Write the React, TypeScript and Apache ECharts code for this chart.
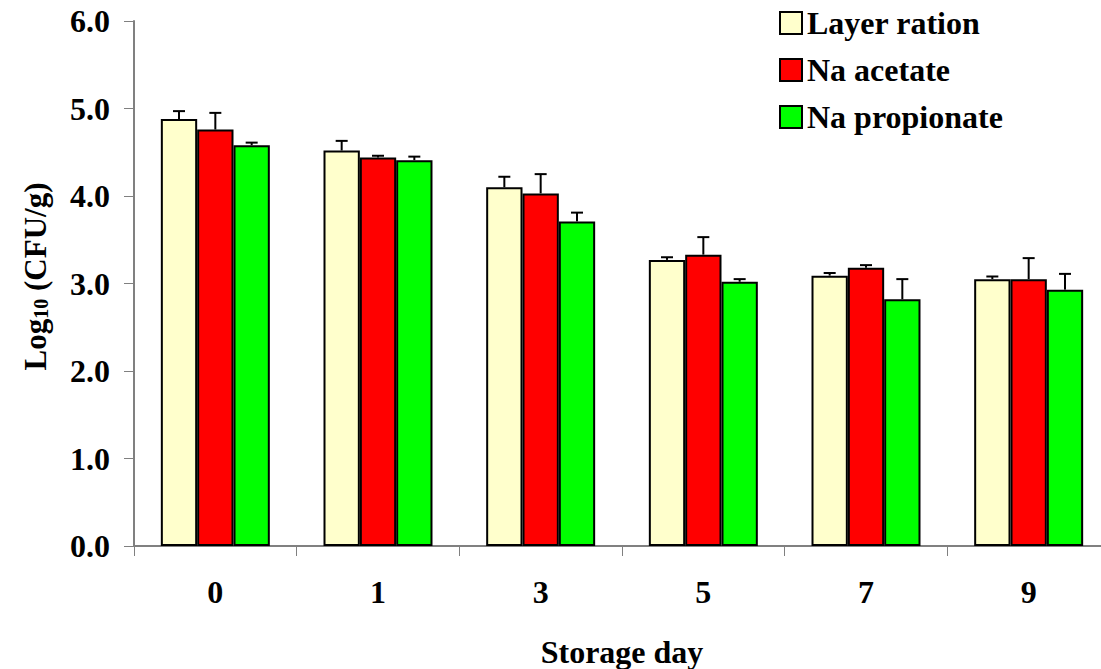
import React, { useEffect, useRef } from "react";
import * as echarts from "echarts";

const categories = ["0", "1", "3", "5", "7", "9"];
const seriesNames = ["Layer ration", "Na acetate", "Na propionate"];
const layerRation = [4.88, 4.52, 4.10, 3.27, 3.09, 3.05];
const naAcetate = [4.76, 4.44, 4.03, 3.33, 3.18, 3.05];
const naPropionate = [4.58, 4.41, 3.71, 3.02, 2.82, 2.93];
const layerRationErr = [0.09, 0.11, 0.12, 0.03, 0.03, 0.03];
const naAcetateErr = [0.19, 0.02, 0.22, 0.2, 0.03, 0.24];
const naPropionateErr = [0.03, 0.04, 0.1, 0.03, 0.23, 0.18];
const colors = ["#FFFFCC", "#FF0000", "#00FF00"];
const yTicks = [0, 1, 2, 3, 4, 5, 6];

const FONT = '"Liberation Serif", "Times New Roman", serif';
const CAT_GAP = 0.33;

export default function App() {
  const ref = useRef<HTMLDivElement>(null);
  useEffect(() => {
    if (!ref.current) return;
    const chart = echarts.init(ref.current, null, { renderer: "svg" });
    const values = [layerRation, naAcetate, naPropionate];
    const errs = [layerRationErr, naAcetateErr, naPropionateErr];

    const barSeries = seriesNames.map((name, i) => ({
      name,
      type: "bar",
      data: values[i],
      barGap: "0%",
      barCategoryGap: CAT_GAP * 100 + "%",
      itemStyle: { color: colors[i], borderColor: "#000", borderWidth: 2 },
      z: 2,
    }));

    const errSeries = seriesNames.map((name, i) => ({
      name: name + " error",
      type: "custom",
      data: values[i].map((v, k) => [k, v, errs[i][k]]),
      encode: { x: 0, y: 1 },
      z: 3,
      renderItem: (params: any, api: any) => {
        const k = api.value(0);
        const v = api.value(1);
        const e = api.value(2);
        const band = api.size([1, 0])[0];
        const bw = (band * (1 - CAT_GAP)) / 3;
        const base = api.coord([k, v]);
        const top = api.coord([k, v + e]);
        const x = base[0] + (i - 1) * bw;
        const cap = 6;
        return {
          type: "group",
          children: [
            {
              type: "line",
              shape: { x1: x, y1: base[1], x2: x, y2: top[1] },
              style: { stroke: "#000", lineWidth: 2 },
            },
            {
              type: "line",
              shape: { x1: x - cap, y1: top[1], x2: x + cap, y2: top[1] },
              style: { stroke: "#000", lineWidth: 2 },
            },
          ],
        };
      },
    }));

    chart.setOption({
      animation: false,
      backgroundColor: "#fff",
      textStyle: { fontFamily: FONT },
      grid: {
        left: 134,
        top: 21,
        bottom: 123,
        right: -9,
        containLabel: false,
        outerBoundsMode: "none",
      },
      legend: {
        data: seriesNames,
        orient: "vertical",
        left: 774,
        top: 2,
        itemWidth: 22,
        itemHeight: 22,
        itemGap: 15,
        icon: "rect",
        textStyle: {
          fontFamily: FONT,
          fontWeight: "bold",
          fontSize: 32,
          color: "#000",
          lineHeight: 22,
        },
      },
      xAxis: {
        type: "category",
        data: categories,
        name: "Storage day",
        nameLocation: "middle",
        nameGap: 90,
        nameTextStyle: { fontFamily: FONT, fontWeight: "bold", fontSize: 32, color: "#000" },
        axisLine: { lineStyle: { color: "#808080", width: 2 } },
        axisTick: { show: true, length: 10, lineStyle: { color: "#808080", width: 1 } },
        axisLabel: {
          fontFamily: FONT,
          fontWeight: "bold",
          fontSize: 32,
          color: "#000",
          margin: 30,
        },
      },
      yAxis: {
        type: "value",
        min: 0,
        max: 6,
        interval: 1,
        name: "{b|Log}{s|10}{b| (CFU/g)}",
        nameLocation: "middle",
        nameRotate: 90,
        nameGap: 83,
        nameTextStyle: {
          padding: [0, 0, 0, 14],
          rich: {
            b: { fontFamily: FONT, fontWeight: "bold", fontSize: 31, color: "#000", lineHeight: 32 },
            s: {
              fontFamily: FONT,
              fontWeight: "bold",
              fontSize: 20,
              color: "#000",
              lineHeight: 14,
              verticalAlign: "bottom",
            },
          },
        },
        splitLine: { show: false },
        axisLine: { show: true, lineStyle: { color: "#808080", width: 2 } },
        axisTick: { show: true, length: 10, lineStyle: { color: "#808080", width: 1 } },
        axisLabel: {
          fontFamily: FONT,
          fontWeight: "bold",
          fontSize: 32,
          color: "#000",
          margin: 24,
          formatter: (v: number) => (yTicks.includes(v) ? v.toFixed(1) : ""),
        },
      },
      series: [...barSeries, ...errSeries],
    });
    return () => chart.dispose();
  }, []);
  return <div ref={ref} style={{ width: 1101, height: 669, position: "absolute", left: 0, top: 0 }} />;
}
